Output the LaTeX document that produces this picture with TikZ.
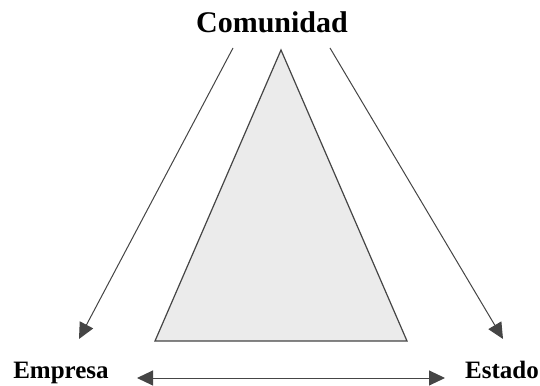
\documentclass[tikz,border=0pt]{standalone}
\usepackage{fontspec}
\setmainfont{Liberation Serif}
\usetikzlibrary{arrows.meta}
\definecolor{linegray}{HTML}{454545}
\definecolor{trifill}{HTML}{EBEBEB}
\begin{document}
\begin{tikzpicture}[x=1pt,y=1pt,
  lbl/.style={inner sep=0pt, anchor=base, font=\bfseries\fontsize{25}{30}\selectfont},
  tip/.style={},
  conn/.style={draw=linegray, line width=1pt, -{Triangle[length=16pt,width=15pt]}},
  biconn/.style={draw=linegray, line width=1pt, {Triangle[length=16pt,width=15pt]}-{Triangle[length=16pt,width=15pt]}}]
\useasboundingbox (0,0) rectangle (540,385);
\fill[white] (0,0) rectangle (540,385);
% triangle
\draw[fill=trifill, draw=linegray, line width=1.2pt, line join=miter] (281,335) -- (155,44) -- (407,44) -- cycle;
% labels
\node[lbl, font=\bfseries\fontsize{30}{34}\selectfont] (com) at (272,352) {Comunidad};
\node[lbl] (emp) at (61,7) {Empresa};
\node[lbl] (est) at (502,7) {Estado};
% connector ends
\coordinate (c1) at (233,337);
\coordinate (e1) at (79,46);
\coordinate (c2) at (330,337);
\coordinate (e2) at (503,46);
\coordinate (b1) at (137,7);
\coordinate (b2) at (445,7);
\draw[conn] (c1) -- (e1);
\draw[conn] (c2) -- (e2);
\draw[biconn] (b1) -- (b2);
\end{tikzpicture}
\end{document}
